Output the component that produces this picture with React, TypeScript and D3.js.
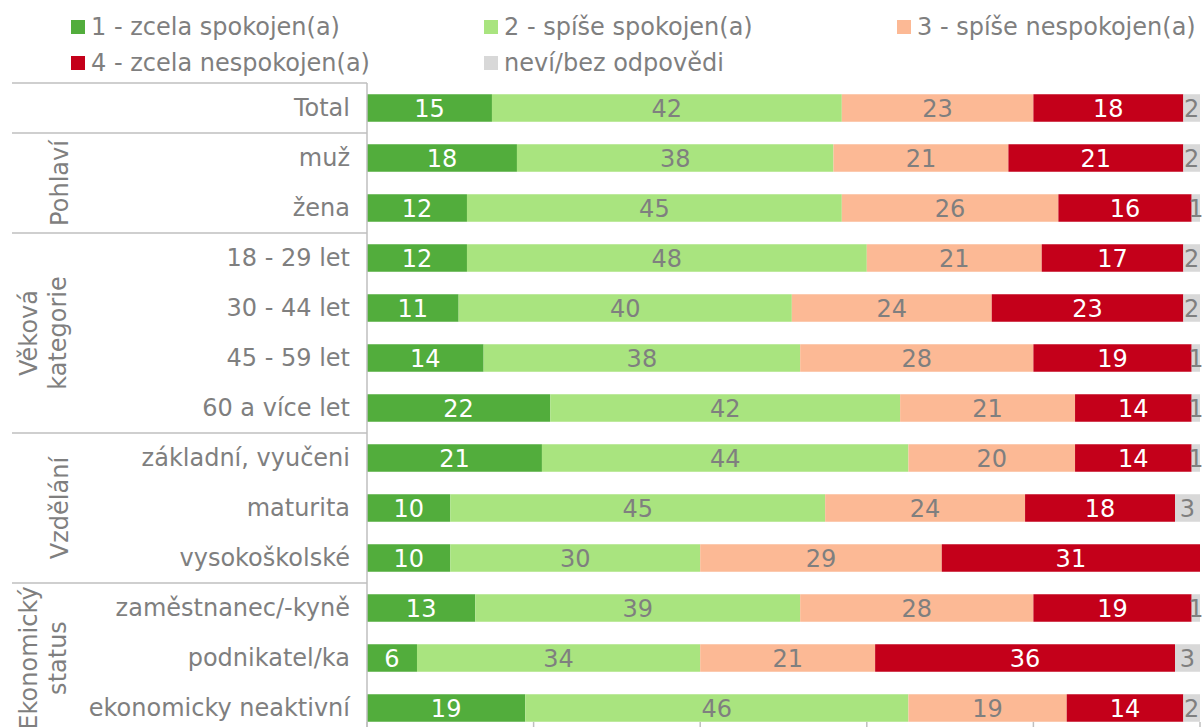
import React from "react";
import * as d3 from "d3";

const categories = [
  "Total",
  "muž",
  "žena",
  "18 - 29 let",
  "30 - 44 let",
  "45 - 59 let",
  "60 a více let",
  "základní, vyučeni",
  "maturita",
  "vysokoškolské",
  "zaměstnanec/-kyně",
  "podnikatel/ka",
  "ekonomicky neaktivní",
];

const zcelaSpokojen = [15, 18, 12, 12, 11, 14, 22, 21, 10, 10, 13, 6, 19];
const spiseSpokojen = [42, 38, 45, 48, 40, 38, 42, 44, 45, 30, 39, 34, 46];
const spiseNespokojen = [23, 21, 26, 21, 24, 28, 21, 20, 24, 29, 28, 21, 19];
const zcelaNespokojen = [18, 21, 16, 17, 23, 19, 14, 14, 18, 31, 19, 36, 14];
const nevi = [2, 2, 1, 2, 2, 1, 1, 1, 3, 0, 1, 3, 2];

const seriesNames = [
  "1 - zcela spokojen(a)",
  "2 - spíše spokojen(a)",
  "3 - spíše nespokojen(a)",
  "4 - zcela nespokojen(a)",
  "neví/bez odpovědi",
];
const seriesValues = [zcelaSpokojen, spiseSpokojen, spiseNespokojen, zcelaNespokojen, nevi];
const seriesColors = ["#52ad3c", "#a9e47f", "#fcb995", "#c4001a", "#d8d8d8"];
const labelColors = ["#ffffff", "#7f7f7f", "#7f7f7f", "#ffffff", "#7f7f7f"];

const groups = [
  { lines: ["Pohlaví"], from: 1, to: 2 },
  { lines: ["Věková", "kategorie"], from: 3, to: 6 },
  { lines: ["Vzdělání"], from: 7, to: 9 },
  { lines: ["Ekonomický", "status"], from: 10, to: 12 },
];

const xTicks = [0, 20, 40, 60, 80, 100];

const W = 1202;
const H = 727;
const FONT = "'DejaVu Sans', Verdana, sans-serif";
const FS = 24;
const TXT = "#7f7f7f";
const LINE = "#bfbfbf";

export default function App() {
  const x = d3.scaleLinear().domain([0, 100]).range([367, 1200]);
  const y = d3
    .scaleBand<string>()
    .domain(categories)
    .range([83, 733])
    .paddingInner(0.45)
    .paddingOuter(0.225);
  const step = y.step();
  const bw = y.bandwidth();

  const table = categories.map((c, i) => {
    const obj: any = { cat: c };
    seriesNames.forEach((s, k) => (obj[s] = seriesValues[k][i]));
    return obj;
  });
  const stack = d3.stack<any>().keys(seriesNames)(table);

  const bandTop = (i: number) => (y(categories[i]) as number) - (step - bw) / 2;
  const bandBottom = (i: number) => bandTop(i) + step;

  const lineYs = [bandTop(0), ...groups.map((g) => bandTop(g.from))];

  return (
    <svg
      width={W}
      height={H}
      style={{ position: "absolute", left: 0, top: 0 }}
      fontFamily={FONT}
    >
      {/* legend */}
      {seriesNames.map((s, k) => {
        const col = k < 3 ? k : k - 3;
        const row = k < 3 ? 0 : 1;
        const lx = 71 + col * 413;
        const ly = 20 + row * 36;
        return (
          <g key={s}>
            <rect x={lx} y={ly} width={14} height={14} fill={seriesColors[k]} />
            <text x={lx + 20} y={ly + 15} fontSize={FS} fill={TXT}>
              {s}
            </text>
          </g>
        );
      })}

      {/* bars */}
      {stack.map((layer, k) => (
        <g key={layer.key}>
          {layer.map((d, i) => {
            const v = d[1] - d[0];
            if (v <= 0) return null;
            const x0 = x(d[0]);
            const x1 = x(d[1]);
            const yy = y(categories[i]) as number;
            return (
              <g key={i}>
                <rect x={x0} y={yy} width={x1 - x0} height={bw} fill={seriesColors[k]} />
                <text
                  x={(x0 + x1) / 2}
                  y={yy + bw / 2 + 8.5}
                  textAnchor="middle"
                  fontSize={FS}
                  fill={labelColors[k]}
                >
                  {v}
                </text>
              </g>
            );
          })}
        </g>
      ))}

      {/* category labels */}
      {categories.map((c) => (
        <text
          key={c}
          x={350}
          y={(y(c) as number) + bw / 2 + 8}
          textAnchor="end"
          fontSize={FS}
          fill={TXT}
        >
          {c}
        </text>
      ))}

      {/* group separator lines */}
      {lineYs.map((ly, i) => (
        <line key={i} x1={12} x2={367} y1={ly} y2={ly} stroke={LINE} strokeWidth={1.5} />
      ))}

      {/* group labels */}
      {groups.map((g) => {
        const yc = (bandTop(g.from) + bandBottom(g.to)) / 2;
        const baselines = g.lines.length === 1 ? [68] : [37, 66];
        return (
          <g key={g.lines.join(" ")}>
            {g.lines.map((ln, j) => (
              <text
                key={ln}
                transform={`translate(${baselines[j]},${yc}) rotate(-90)`}
                textAnchor="middle"
                fontSize={FS}
                fill={TXT}
              >
                {ln}
              </text>
            ))}
          </g>
        );
      })}

      {/* axis */}
      <line x1={367} x2={367} y1={83} y2={733} stroke={LINE} strokeWidth={1.5} />
      {xTicks.map((t) => (
        <line
          key={t}
          x1={x(t)}
          x2={x(t)}
          y1={722}
          y2={744}
          stroke={LINE}
          strokeWidth={1.5}
        />
      ))}
      <line x1={367} x2={1200} y1={733} y2={733} stroke={LINE} strokeWidth={1.5} />
    </svg>
  );
}
